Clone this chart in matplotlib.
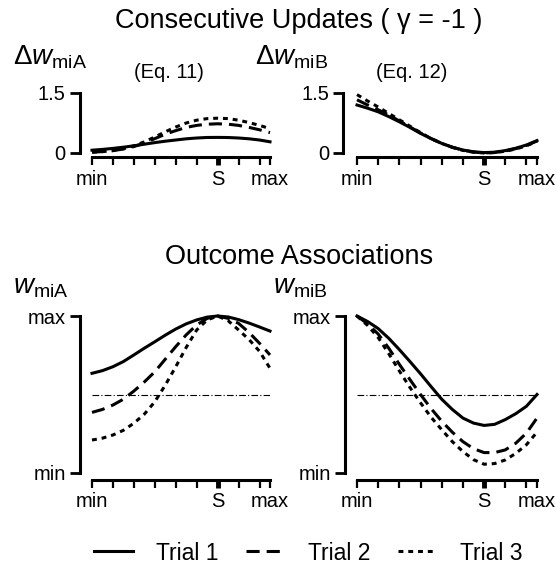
import matplotlib
matplotlib.use('Agg')
import matplotlib.pyplot as plt

plt.rcParams['font.family'] = ['Liberation Sans', 'DejaVu Sans']
plt.rcParams['mathtext.fontset'] = 'custom'
plt.rcParams['mathtext.rm'] = 'Liberation Sans'
plt.rcParams['mathtext.it'] = 'Liberation Sans:italic'

# stimulus axis: ticks 0..8, "max" at 8.5, S at 6
x = [0, 0.5, 1, 1.5, 2, 2.5, 3, 3.5, 4, 4.5, 5, 5.5, 6, 6.5, 7, 7.5, 8, 8.5]
xticks = [0, 1, 2, 3, 4, 5, 6, 7, 8, 8.5]
xticklabels = ['min', '', '', '', '', '', 'S', '', '', 'max']
trials = ['Trial 1', 'Trial 2', 'Trial 3']

# consecutive updates (Eq. 11 / Eq. 12)
dA_1 = [0.07, 0.09, 0.115, 0.145, 0.18, 0.22, 0.26, 0.295, 0.325, 0.355, 0.375, 0.388, 0.39, 0.387, 0.375, 0.355, 0.325, 0.28]
dA_2 = [0.02, 0.035, 0.06, 0.10, 0.16, 0.25, 0.36, 0.47, 0.56, 0.64, 0.69, 0.72, 0.73, 0.72, 0.69, 0.64, 0.58, 0.51]
dA_3 = [0.02, 0.035, 0.06, 0.11, 0.18, 0.28, 0.40, 0.53, 0.65, 0.75, 0.82, 0.86, 0.87, 0.86, 0.82, 0.76, 0.69, 0.61]

dB_1 = [1.2, 1.12, 1.03, 0.91, 0.78, 0.64, 0.49, 0.36, 0.24, 0.145, 0.075, 0.03, 0.01, 0.02, 0.06, 0.12, 0.2, 0.31]
dB_2 = [1.33, 1.2, 1.08, 0.95, 0.80, 0.65, 0.50, 0.36, 0.24, 0.145, 0.07, 0.025, 0.0, 0.015, 0.05, 0.11, 0.19, 0.30]
dB_3 = [1.46, 1.3, 1.15, 0.99, 0.83, 0.67, 0.51, 0.36, 0.24, 0.14, 0.065, 0.02, 0.0, 0.01, 0.045, 0.10, 0.18, 0.29]

# outcome associations (0 = min, 1 = max)
wA_1 = [0.635, 0.652, 0.677, 0.71, 0.752, 0.795, 0.836, 0.878, 0.917, 0.95, 0.975, 0.993, 1.0, 0.994, 0.977, 0.955, 0.93, 0.904]
wA_2 = [0.386, 0.405, 0.433, 0.47, 0.522, 0.58, 0.645, 0.725, 0.805, 0.88, 0.943, 0.985, 1.0, 0.985, 0.953, 0.895, 0.826, 0.752]
wA_3 = [0.21, 0.222, 0.242, 0.272, 0.317, 0.375, 0.454, 0.56, 0.677, 0.80, 0.911, 0.975, 1.0, 0.97, 0.911, 0.85, 0.775, 0.667]

wB_1 = [1.0, 0.965, 0.92, 0.858, 0.786, 0.71, 0.632, 0.55, 0.47, 0.405, 0.35, 0.318, 0.303, 0.31, 0.34, 0.378, 0.425, 0.5]
wB_2 = [1.0, 0.95, 0.885, 0.795, 0.692, 0.595, 0.5, 0.41, 0.33, 0.26, 0.20, 0.155, 0.13, 0.13, 0.147, 0.19, 0.254, 0.35]
wB_3 = [1.0, 0.94, 0.863, 0.76, 0.65, 0.545, 0.447, 0.355, 0.276, 0.2, 0.137, 0.085, 0.056, 0.06, 0.083, 0.125, 0.18, 0.26]

baseline = 0.5

styles = [dict(ls='-'), dict(ls=(0, (4.3, 2.3))), dict(ls=(0, (1.6, 1.6)))]

fig = plt.figure(figsize=(5.57, 5.67), dpi=100)

W, H = 557.0, 567.0
def rect(l, top, w, h):
    return [l / W, (H - top - h) / H, w / W, h / H]

ax_tl = fig.add_axes(rect(92, 93, 178, 60))
ax_tr = fig.add_axes(rect(357, 93, 180, 60))
ax_bl = fig.add_axes(rect(92, 316, 178, 157))
ax_br = fig.add_axes(rect(357, 316, 180, 157))


def setup(ax, ylim, ylabels, xoff, yoff):
    for s in ['top', 'right']:
        ax.spines[s].set_visible(False)
    ax.spines['left'].set_position(('outward', yoff))
    ax.spines['bottom'].set_position(('outward', xoff))
    ax.spines['left'].set_linewidth(2.2)
    ax.spines['bottom'].set_linewidth(2.2)
    ax.spines['left'].set_bounds(ylim[0], ylim[1])
    ax.spines['bottom'].set_bounds(0, 8.5)
    ax.set_xlim(0, 8.5)
    ax.set_ylim(ylim)
    ax.set_xticks(xticks)
    ax.set_xticklabels(xticklabels)
    ax.set_yticks(ylim)
    ax.set_yticklabels(ylabels)
    ax.tick_params(axis='x', direction='out', length=6, width=1.6, labelsize=14.5, pad=3)
    ax.tick_params(axis='y', direction='out', length=7, width=2.0, labelsize=14.5, pad=3)
    ax.xaxis.get_major_ticks()[6].tick1line.set_markeredgewidth(3.5)
    ax.patch.set_visible(False)


def curves(ax, series):
    lines = []
    for ys, st in zip(series, styles):
        ln, = ax.plot(x, ys, color='black', lw=2.2, clip_on=False, **st)
        lines.append(ln)
    return lines


curves(ax_tl, [dA_1, dA_2, dA_3])
curves(ax_tr, [dB_1, dB_2, dB_3])
handles = curves(ax_bl, [wA_1, wA_2, wA_3])
curves(ax_br, [wB_1, wB_2, wB_3])

for ax in [ax_bl, ax_br]:
    ax.plot([0, 8.5], [baseline, baseline], color='black', lw=0.8, ls=(0, (6, 2, 1, 2)))

setup(ax_tl, (0, 1.5), ['0', '1.5'], 3, 9)
setup(ax_tr, (0, 1.5), ['0', '1.5'], 3, 10)
setup(ax_bl, (0, 1), ['min', 'max'], 5, 9)
setup(ax_br, (0, 1), ['min', 'max'], 5, 9)

# titles and labels
fig.text(299 / W, 1 - 21 / H, 'Consecutive Updates ( \u03b3 = -1 )', ha='center', va='center', fontsize=19.5)
fig.text(299 / W, 1 - 264 / H, 'Outcome Associations', ha='center', va='baseline', fontsize=19.5)
fig.text(169 / W, 1 - 72 / H, '(Eq. 11)', ha='center', va='center', fontsize=14.5)
fig.text(412 / W, 1 - 72 / H, '(Eq. 12)', ha='center', va='center', fontsize=14.5)

fig.text(13 / W, 1 - 65 / H, r'$\Delta w_{\mathrm{miA}}$', ha='left', va='baseline', fontsize=20)
fig.text(255 / W, 1 - 65 / H, r'$\Delta w_{\mathrm{miB}}$', ha='left', va='baseline', fontsize=20)
fig.text(13 / W, 1 - 293 / H, r'$w_{\mathrm{miA}}$', ha='left', va='baseline', fontsize=20)
fig.text(273 / W, 1 - 293 / H, r'$w_{\mathrm{miB}}$', ha='left', va='baseline', fontsize=20)

fig.legend(handles, trials, loc='center', bbox_to_anchor=(308 / W, 1 - 553 / H), ncol=3,
           frameon=False, fontsize=16.5, handlelength=1.7, handletextpad=1.0, columnspacing=1.2)

fig.savefig('out.png', dpi=100)
